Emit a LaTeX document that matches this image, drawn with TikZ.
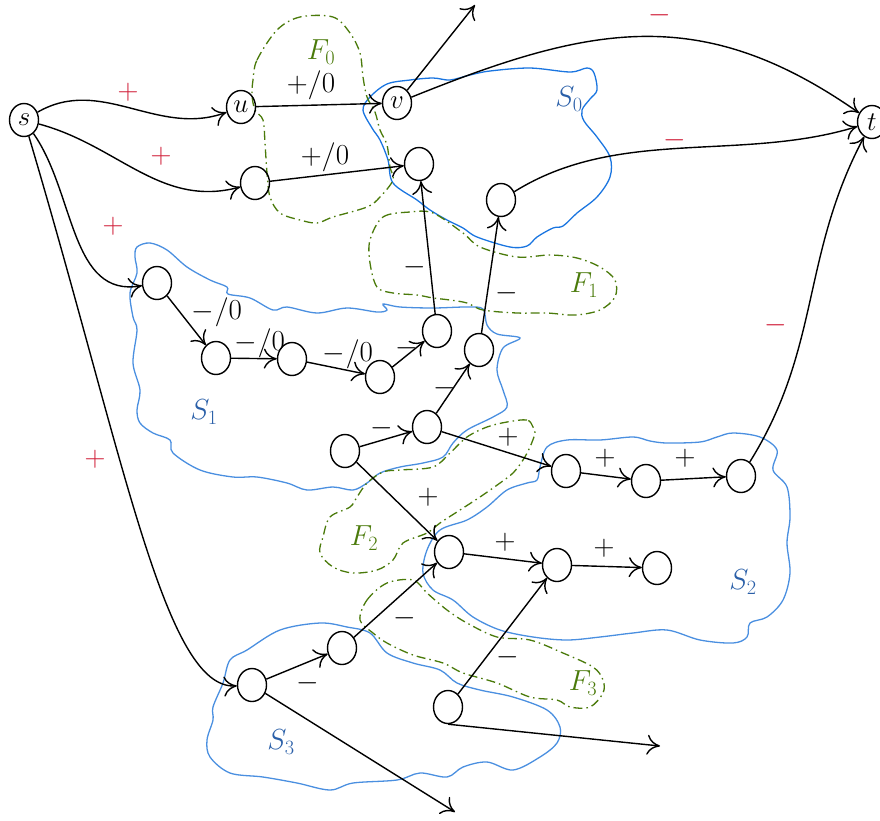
\RequirePackage{fix-cm}
\documentclass[tikz,border=0pt]{standalone}
\usetikzlibrary{arrows.meta,shapes.geometric}
\definecolor{sblue}{HTML}{1A75E0}
\definecolor{lblue}{HTML}{4A8FE0}
\definecolor{slab}{HTML}{2A5FA8}
\definecolor{fgreen}{HTML}{4A7A0A}
\definecolor{pmred}{HTML}{D0203A}
\begin{document}
\begin{tikzpicture}[x=1pt,y=-1pt,line width=1.4pt,
  every node/.style={font=\fontsize{29}{34}\selectfont,inner sep=0pt},
  vtx/.style={draw,ellipse,minimum width=29pt,minimum height=33pt,inner sep=0pt,line width=1.4pt,font=\fontsize{27}{32}\selectfont},
  arr/.style={-{To[length=13pt,width=20pt]}},
  sblob/.style={draw=sblue,line width=1.3pt},
  lblob/.style={draw=lblue,line width=1.3pt},
  fblob/.style={draw=fgreen,line width=1.3pt,dash pattern=on 9pt off 4pt on 1.5pt off 4pt},
  slabel/.style={text=slab},
  flabel/.style={text=fgreen},
  rlab/.style={text=pmred},
  elab/.style={text=black}]
\useasboundingbox (0,0) rectangle (880,820);

% blobs S
\draw[sblob] plot[smooth cycle,tension=0.55] coordinates {(370,97) (387,84) (410,80) (433,78) (450,80) (470,75) (490,71) (530,68) (570,72) (587,68) (594,73) (597,90) (590,99) (582,110) (584,121) (597,137) (610,157) (610,177) (597,197) (577,213) (563,226) (553,228) (537,237) (527,246) (510,247) (477,237) (463,228) (447,220) (430,210) (417,200) (393,183) (388,160) (380,140) (372,128) (363,110)};
\draw[lblob] plot[smooth cycle,tension=0.55] coordinates {(137,247) (150,243) (167,250) (187,267) (210,280) (227,287) (228,294) (250,298) (273,310) (287,307) (317,313) (347,308) (377,312) (387,310) (383,304) (400,307) (433,308) (467,307) (483,309) (487,325) (497,334) (520,338) (503,348) (497,370) (503,390) (507,407) (493,417) (467,430) (453,443) (443,457) (423,463) (400,467) (380,473) (367,483) (353,490) (333,487) (307,490) (287,483) (257,477) (233,477) (200,470) (173,453) (170,440) (153,433) (140,423) (137,410) (140,390) (133,363) (137,330) (133,317) (130,293) (137,273) (135,257)};
\draw[lblob] plot[smooth cycle,tension=0.55] coordinates {(540,467) (547,447) (567,440) (600,440) (633,437) (650,441) (667,443) (700,442) (717,437) (733,433) (760,437) (777,450) (773,470) (787,487) (790,517) (787,543) (790,573) (783,600) (767,617) (750,623) (747,637) (733,643) (700,640) (667,630) (633,633) (600,637) (567,640) (533,637) (500,630) (473,617) (453,600) (433,590) (423,573) (427,550) (440,530) (467,520) (487,507) (507,490) (527,483) (537,480)};
\draw[lblob] plot[smooth cycle,tension=0.55] coordinates {(213,707) (223,683) (230,660) (247,650) (280,630) (320,623) (347,627) (370,633) (387,653) (413,663) (440,670) (457,683) (480,690) (513,697) (547,710) (560,727) (557,743) (540,757) (513,770) (487,762) (463,767) (447,777) (420,773) (397,780) (353,783) (330,790) (297,783) (263,777) (230,773) (210,757) (207,740) (213,720)};

% blobs F
\draw[fblob] plot[smooth cycle,tension=0.55] coordinates {(253,80) (257,60) (277,30) (300,17) (333,17) (350,33) (360,53) (363,77) (367,97) (375,112) (380,130) (387,145) (390,167) (393,180) (380,197) (367,207) (333,217) (317,223) (300,220) (280,213) (270,197) (267,173) (265,143) (263,120) (255,110) (252,95)};
\draw[fblob] plot[smooth cycle,tension=0.55] coordinates {(370,240) (383,217) (410,212) (433,213) (463,233) (480,247) (517,257) (550,255) (577,258) (600,267) (615,280) (615,297) (600,310) (575,315) (547,313) (517,313) (483,310) (467,303) (450,300) (433,298) (417,295) (393,293) (377,287) (370,263)};
\draw[fblob] plot[smooth cycle,tension=0.55] coordinates {(533,427) (527,420) (507,422) (487,427) (467,437) (450,453) (433,467) (400,470) (383,472) (367,483) (357,497) (350,507) (330,517) (323,537) (320,553) (333,567) (353,573) (377,570) (393,560) (403,543) (427,533) (440,523) (460,510) (480,497) (500,483) (513,473) (523,460) (530,447) (535,433)};
\draw[fblob] plot[smooth cycle,tension=0.55] coordinates {(360,620) (367,600) (387,583) (413,580) (427,593) (447,610) (467,623) (497,637) (530,640) (563,653) (593,667) (603,680) (603,693) (590,707) (570,707) (557,700) (530,697) (497,683) (463,673) (443,663) (413,655) (387,643) (373,633)};

% region labels
\node[slabel] (lS0) at (569,99) {$S_0$};
\node[slabel] (lS1) at (204,412) {$S_1$};
\node[slabel] (lS2) at (743,582) {$S_2$};
\node[slabel] (lS3) at (281,742) {$S_3$};
\node[flabel] (lF0) at (321,52) {$F_0$};
\node[flabel] (lF1) at (584,285) {$F_1$};
\node[flabel] (lF2) at (364,538) {$F_2$};
\node[flabel] (lF3) at (583,683) {$F_3$};

% vertices
\node[vtx] (s) at (24,120) {$s$};
\node[vtx] (u) at (241,107) {$u$};
\node[vtx] (v) at (397,103) {$v$};
\node[vtx] (t) at (872,122) {$t$};
\node[vtx] (a) at (255,183) {};
\node[vtx] (b) at (419,164) {};
\node[vtx] (c) at (501,200) {};
\node[vtx] (n1) at (157,283) {};
\node[vtx] (n2) at (216,358) {};
\node[vtx] (n3) at (292,359) {};
\node[vtx] (n4) at (380,377) {};
\node[vtx] (n5) at (437,331) {};
\node[vtx] (n6) at (479,350) {};
\node[vtx] (n7) at (427,427) {};
\node[vtx] (n8) at (345,451) {};
\node[vtx] (m1) at (566,471) {};
\node[vtx] (m2) at (646,481) {};
\node[vtx] (m3) at (741,476) {};
\node[vtx] (m4) at (449,552) {};
\node[vtx] (m5) at (557,565) {};
\node[vtx] (m6) at (657,568) {};
\node[vtx] (p1) at (252,685) {};
\node[vtx] (p2) at (342,648) {};
\node[vtx] (p3) at (448,707) {};

\coordinate (e1) at (475,5);
\coordinate (e2) at (455,812);
\coordinate (e3) at (660,746);

% edges
\draw[arr] (s) to[out=30,in=200] (u);
\draw[arr] (s) to[out=-15,in=195] (a);
\draw[arr] (s) to[out=-55,in=190] (n1);
\draw[arr] (s) .. controls (125,460) and (165,690) .. (p1);
\draw[arr] (u) -- (v);
\draw[arr] (a) -- (b);
\draw[arr] (v) -- (e1);
\draw[arr] (v) to[out=22,in=145,looseness=1.1] (t);
\draw[arr] (c) to[out=32,in=197,looseness=0.9] (t);
\draw[arr] (m3) to[out=58,in=242] (t);
\draw[arr] (n5) -- (b);
\draw[arr] (n6) -- (c);
\draw[arr] (n1) -- (n2);
\draw[arr] (n2) -- (n3);
\draw[arr] (n3) -- (n4);
\draw[arr] (n4) -- (n5);
\draw[arr] (n8) -- (n7);
\draw[arr] (n7) -- (n6);
\draw[arr] (n7) -- (m1);
\draw[arr] (n8) -- (m4);
\draw[arr] (m1) -- (m2);
\draw[arr] (m2) -- (m3);
\draw[arr] (m4) -- (m5);
\draw[arr] (m5) -- (m6);
\draw[arr] (p1) -- (p2);
\draw[arr] (p2) -- (m4);
\draw[arr] (p3) -- (m5);
\draw[arr] (p1) -- (e2);
\draw[arr] (p3.south) -- (e3);

% edge labels
\node[rlab] (r1) at (128,92) {$+$};
\node[rlab] (r2) at (161,156) {$+$};
\node[rlab] (r3) at (113,226) {$+$};
\node[rlab] (r4) at (95,459) {$+$};
\node[rlab] (r5) at (660,15) {$-$};
\node[rlab] (r6) at (675,140) {$-$};
\node[rlab] (r7) at (776,325) {$-$};
\node[elab] (l1) at (311,85) {$+/0$};
\node[elab] (l2) at (325,157) {$+/0$};
\node[elab] (l3) at (415,267) {$-$};
\node[elab] (l4) at (507,293) {$-$};
\node[elab] (l5) at (217,312) {$-/0$};
\node[elab] (l6) at (260,343) {$-/0$};
\node[elab] (l7) at (348,354) {$-/0$};
\node[elab] (l8) at (407,348) {$-$};
\node[elab] (l9) at (382,428) {$-$};
\node[elab] (l10) at (445,388) {$-$};
\node[elab] (l11) at (508,437) {$+$};
\node[elab] (l12) at (428,497) {$+$};
\node[elab] (l13) at (605,458) {$+$};
\node[elab] (l14) at (685,458) {$+$};
\node[elab] (l15) at (505,542) {$+$};
\node[elab] (l16) at (604,548) {$+$};
\node[elab] (l17) at (405,618) {$-$};
\node[elab] (l18) at (308,683) {$-$};
\node[elab] (l19) at (508,657) {$-$};
\end{tikzpicture}
\end{document}
